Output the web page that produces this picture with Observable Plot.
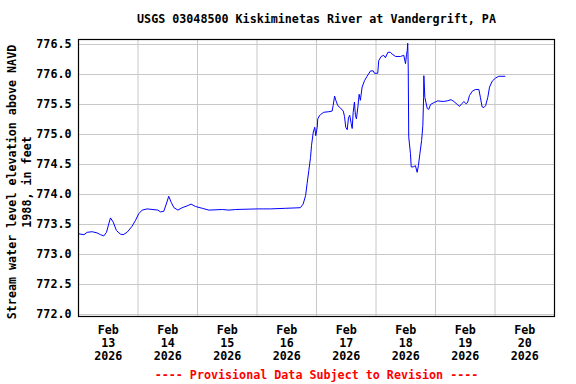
<!DOCTYPE html>
<html><head><meta charset="utf-8">
<script src="https://cdn.jsdelivr.net/npm/d3@7"></script>
<script src="https://cdn.jsdelivr.net/npm/@observablehq/plot@0.6"></script>
<style>body{margin:0;background:#fff}</style>
</head><body><div id="chart"></div>
<script>
const title = "USGS 03048500 Kiskiminetas River at Vandergrift, PA";
const yLabel1 = "Stream water level elevation above NAVD";
const yLabel2 = "1988, in feet";
const footer = "---- Provisional Data Subject to Revision ----";
const startDate = "2026-02-13T00:00:00Z";
const endDate = "2026-02-21T00:00:00Z";
const dayLabels = ["2026-02-13","2026-02-14","2026-02-15","2026-02-16","2026-02-17","2026-02-18","2026-02-19","2026-02-20"];
const yTicks = [772.0, 772.5, 773.0, 773.5, 774.0, 774.5, 775.0, 775.5, 776.0, 776.5];

// hours since 2026-02-13 00:00
const hours = [0.1,2.2,3.5,5.5,7.5,8.9,10.2,11.3,12.2,12.9,14.0,15.3,16.9,18.0,19.6,21.6,23.0,24.3,25.7,27.7,32.0,33.1,34.4,35.4,36.4,37.4,38.5,40.1,41.8,43.8,45.4,47.2,49.9,52.6,58.0,60.7,63.4,72.1,74.8,77.4,83.5,89.5,90.6,91.6,92.2,92.9,93.6,94.0,94.7,95.3,95.7,96.3,96.5,97.3,97.6,98.9,101.0,102.3,102.7,103.3,103.8,104.6,105.7,106.8,107.3,107.8,108.4,108.9,109.4,110.0,110.4,110.8,111.3,111.7,112.1,112.7,113.2,113.7,114.4,115.4,116.4,117.8,118.9,119.4,120.7,121.1,122.1,123.1,123.8,124.8,125.8,126.5,127.9,129.9,131.2,131.9,132.3,132.6,132.8,133.0,133.2,133.9,134.2,135.0,135.9,136.6,137.1,137.7,138.4,138.9,139.2,139.3,139.7,140.1,140.7,141.3,142.0,143.3,144.9,147.1,148.7,150.3,151.4,152.8,153.7,154.8,155.4,156.4,157.0,157.7,158.8,160.1,161.5,162.1,162.8,163.5,164.2,165.1,165.8,166.9,168.2,169.5,172.0];
const level = [773.345,773.33,773.37,773.38,773.36,773.33,773.31,773.37,773.51,773.61,773.54,773.40,773.34,773.33,773.37,773.47,773.57,773.68,773.74,773.76,773.74,773.71,773.72,773.84,773.97,773.87,773.78,773.74,773.78,773.81,773.84,773.80,773.77,773.74,773.75,773.74,773.75,773.76,773.76,773.76,773.77,773.78,773.84,773.98,774.18,774.40,774.62,774.82,775.04,775.12,774.98,775.12,775.26,775.32,775.33,775.37,775.38,775.39,775.48,775.64,775.57,775.48,775.44,775.39,775.30,775.12,775.08,775.28,775.32,775.18,775.10,775.37,775.54,775.32,775.26,775.46,775.67,775.57,775.79,775.90,775.97,776.06,776.06,776.02,776.02,776.23,776.30,776.32,776.28,776.37,776.37,776.34,776.30,776.30,776.32,776.18,776.33,776.40,776.52,776.12,774.96,774.68,774.46,774.46,774.48,774.37,774.48,774.68,774.90,775.15,775.62,775.98,775.62,775.54,775.43,775.42,775.50,775.53,775.56,775.55,775.56,775.58,775.55,775.50,775.47,775.52,775.55,775.51,775.54,775.65,775.72,775.75,775.75,775.62,775.46,775.45,775.48,775.62,775.79,775.89,775.94,775.97,775.97];

const t0 = new Date(startDate);
const data = hours.map((h, i) => ({date: new Date(+t0 + h * 3600000), level: level[i]}));
const noon = dayLabels.map(d => new Date(d + "T12:00:00Z"));
const midnights = dayLabels.slice(1).map(d => new Date(d + "T00:00:00Z"));
const font = "'DejaVu Sans Mono', monospace";
const fmt = d3.utcFormat("%b\n%-d\n%Y");
const txt = {fontFamily: font, fontSize: 11.7, fontWeight: "bold", fill: "black"};

const chart = Plot.plot({
  width: 576, height: 384,
  marginLeft: 78, marginRight: 22, marginTop: 39, marginBottom: 68,
  style: {fontFamily: font, fontSize: "11.7px", fontWeight: "bold", background: "white", color: "black"},
  x: {type: "utc", domain: [t0, new Date(endDate)]},
  y: {domain: [771.967, 776.583]},
  marks: [
    Plot.gridY(yTicks, {stroke: "#c8c8c8", strokeOpacity: 1}),
    Plot.gridX(midnights, {stroke: "#c8c8c8", strokeOpacity: 1}),
    Plot.line(data, {x: "date", y: "level", stroke: "#0000ff", strokeWidth: 1}),
    Plot.frame({stroke: "black", strokeWidth: 1.2}),
    Plot.axisY(yTicks, {tickSize: 0, tickPadding: 7, tickFormat: d => d.toFixed(1), label: null}),
    Plot.axisX(noon, {tickSize: 0, tickPadding: 8, tickFormat: fmt, label: null, lineHeight: 1.12}),
    Plot.text([title], {...txt, text: d => d, frameAnchor: "top", dy: -20, lineAnchor: "middle"}),
    Plot.text([yLabel1], {...txt, text: d => d, frameAnchor: "left", textAnchor: "middle", dx: -66, dy: 4, rotate: -90, lineAnchor: "middle"}),
    Plot.text([yLabel2], {...txt, text: d => d, frameAnchor: "left", textAnchor: "middle", dx: -51, dy: 4, rotate: -90, lineAnchor: "middle"}),
    Plot.text([footer], {...txt, fill: "#ff0000", text: d => d, frameAnchor: "bottom", dy: 59, lineAnchor: "middle"})
  ]
});
document.getElementById("chart").append(chart);
</script>
</body></html>
